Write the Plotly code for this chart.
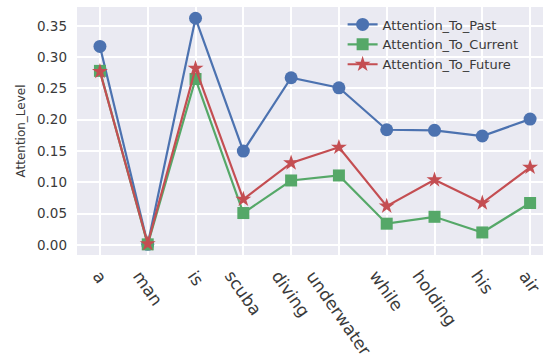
import plotly.graph_objects as go

words = ["a", "man", "is", "scuba", "diving", "underwater", "while", "holding", "his", "air"]
attention_past = [0.317, 0.001, 0.362, 0.150, 0.267, 0.251, 0.184, 0.183, 0.174, 0.201]
attention_current = [0.278, 0.001, 0.265, 0.051, 0.103, 0.111, 0.034, 0.045, 0.020, 0.067]
attention_future = [0.277, 0.002, 0.282, 0.073, 0.131, 0.156, 0.062, 0.104, 0.067, 0.124]
y_ticks = [0.00, 0.05, 0.10, 0.15, 0.20, 0.25, 0.30, 0.35]

series = [
    ("Attention_To_Past", attention_past, "#4C72B0", "circle", 13),
    ("Attention_To_Current", attention_current, "#55A868", "square", 12),
    ("Attention_To_Future", attention_future, "#C44E52", "star", 12),
]

fig = go.Figure()
for name, vals, color, symbol, size in series:
    fig.add_trace(go.Scatter(
        x=words, y=vals, name=name, mode="lines+markers",
        line=dict(color=color, width=2.2),
        marker=dict(symbol=symbol, size=size, color=color, line=dict(width=0)),
    ))

# rotated word labels, centred under each category like matplotlib's ha="center"
for w in words:
    fig.add_annotation(
        x=w, xref="x", y=0, yref="paper", text=w, showarrow=False,
        textangle=55, xanchor="center", yanchor="top", yshift=-9,
        font=dict(family="DejaVu Sans", size=17, color="#3a3a3a"),
    )

fig.update_layout(
    width=543, height=358,
    margin=dict(l=77, r=0, t=7, b=103),
    paper_bgcolor="white", plot_bgcolor="#EAEAF2",
    font=dict(family="DejaVu Sans", color="#3a3a3a"),
    showlegend=True,
    legend=dict(
        x=0.57, y=0.99, xanchor="left", yanchor="top",
        bgcolor="rgba(0,0,0,0)", font=dict(size=13, color="#3a3a3a"),
        tracegroupgap=0, itemwidth=30,
    ),
)
fig.update_xaxes(
    type="category", range=[-0.48, 9.27], showticklabels=False,
    showgrid=True, gridcolor="white", gridwidth=1.5, zeroline=False, ticks="",
)
fig.update_yaxes(
    range=[-0.016, 0.38], tickvals=y_ticks, tickformat=".2f",
    showgrid=True, gridcolor="white", gridwidth=1.5, zeroline=False, ticks="",
    tickfont=dict(size=13.5, color="#3a3a3a"), ticklabelstandoff=9,
    title=dict(text="Attention_Level", font=dict(size=12, color="#3a3a3a"), standoff=8),
)

fig.write_html("out.html")
